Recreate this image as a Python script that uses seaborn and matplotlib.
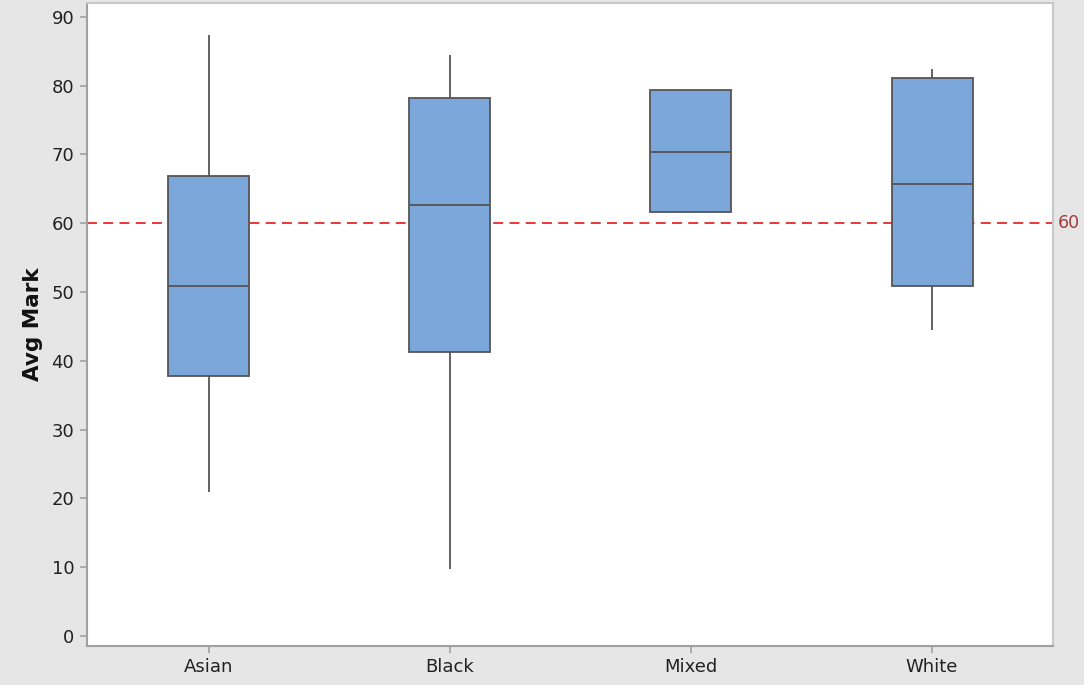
import seaborn as sns
import matplotlib.pyplot as plt
import pandas as pd

# five-number summaries (min, Q1, median, Q3, max)
groups = ['Asian', 'Black', 'Mixed', 'White']
asian = [20.9, 37.8, 50.9, 66.9, 87.4]
black = [9.7, 41.3, 62.6, 78.2, 84.4]
mixed = [61.6, 61.6, 70.3, 79.4, 79.4]
white = [44.5, 50.9, 65.7, 81.1, 82.4]
ref_value = 60

df = pd.DataFrame({
    'Group': [g for g, vals in zip(groups, [asian, black, mixed, white]) for _ in vals],
    'Avg Mark': asian + black + mixed + white,
})

sns.set_style('white')
plt.rcParams['font.family'] = ['DejaVu Sans']

fig = plt.figure(figsize=(10.84, 6.85), dpi=100, facecolor='#E6E6E6')
ax = fig.add_axes([0.080, 0.057, 0.891, 0.9386])
ax.set_facecolor('white')

edge = '#555555'
sns.boxplot(data=df, x='Group', y='Avg Mark', order=groups, ax=ax,
            whis=(0, 100), width=0.336, showcaps=False, showfliers=False,
            color='#7BA7DB', saturation=1, linecolor=edge, linewidth=1.3)

ax.axhline(ref_value, color='#E8282A', linestyle=(0, (5.5, 3.5)), linewidth=1.3, zorder=0)
ax.text(1.005, ref_value, str(ref_value), transform=ax.get_yaxis_transform(),
        color='#A33A3A', fontsize=12.5, va='center', ha='left')

ax.set_xlim(-0.506, 3.5)
ax.set_ylim(-1.45, 92)
ax.set_yticks(range(0, 91, 10))
ax.set_xlabel('')
ax.set_ylabel('Avg Mark', fontsize=15.5, fontweight='bold', color='#111111', labelpad=6)

for side in ['left', 'bottom', 'top', 'right']:
    ax.spines[side].set_color('#A0A0A0')
    ax.spines[side].set_linewidth(1.5)
ax.spines['top'].set_color('#C8C8C8')
ax.spines['right'].set_color('#C8C8C8')
ax.tick_params(axis='both', direction='out', length=5, width=1.2, color='#A0A0A0',
               labelsize=13, labelcolor='#222222', bottom=True, left=True)
ax.tick_params(axis='y', pad=4)

fig.savefig('out.png', dpi=100, facecolor=fig.get_facecolor())
